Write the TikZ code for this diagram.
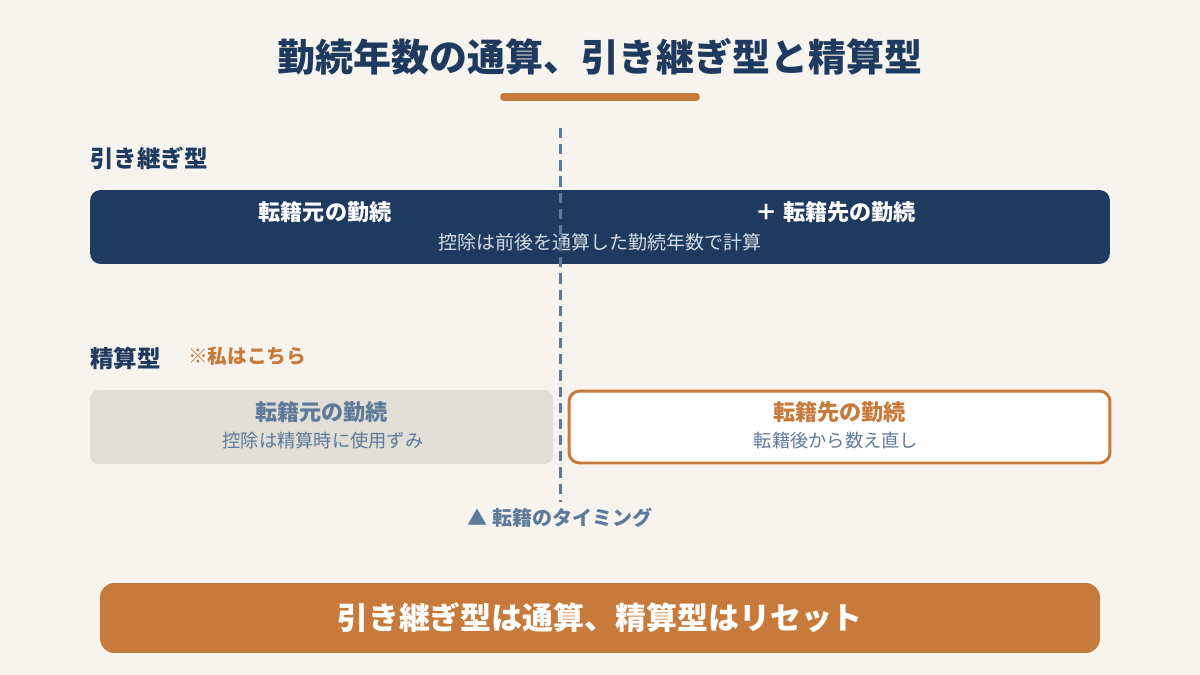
\documentclass[tikz,border=0pt]{standalone}
\usepackage{fontspec}
\setmainfont{Noto Sans CJK JP}
\usetikzlibrary{positioning}

\definecolor{navy}{HTML}{1F3A5F}
\definecolor{rust}{HTML}{C87A3A}
\definecolor{paper}{HTML}{F7F4EF}
\definecolor{stone}{HTML}{E0DED6}
\definecolor{slate}{HTML}{5E7A99}
\definecolor{mist}{HTML}{D3DBE6}

\begin{document}
\begin{tikzpicture}[
  x=0.02cm, y=-0.02cm,
  heading/.style={font=\bfseries\fontsize{21.6pt}{25pt}\selectfont, text=navy},
  kind/.style={font=\bfseries\fontsize{13.4pt}{16pt}\selectfont, text=navy, anchor=west},
  flowbar/.style={fill=navy, rounded corners=6pt, minimum width=20.4cm, minimum height=1.48cm},
  oldbox/.style={fill=stone, rounded corners=5pt, minimum width=9.26cm, minimum height=1.48cm},
  newbox/.style={draw=rust, line width=1.7pt, fill=white, rounded corners=6pt, minimum width=10.82cm, minimum height=1.44cm},
  term/.style={font=\bfseries\fontsize{12.6pt}{15pt}\selectfont},
  note/.style={font=\fontsize{10.4pt}{13pt}\selectfont},
  summary/.style={fill=rust, rounded corners=8pt, minimum width=20cm, minimum height=1.4cm, text=white,
    font=\bfseries\fontsize{17.6pt}{21pt}\selectfont},
  cutline/.style={draw=slate, line width=1.7pt, dash pattern=on 5.8pt off 3.4pt}
]
  \fill[paper] (0,0) rectangle (1200,675);
  \useasboundingbox (0,0) rectangle (1200,675);

  % title
  \node[heading] (title) at (600,57) {勤続年数の通算、引き継ぎ型と精算型};
  \coordinate (rule left) at (503.5,97);
  \coordinate (rule right) at (696.5,97);
  \draw[rust, line width=4pt, line cap=round] (rule left) -- (rule right);

  % 引き継ぎ型
  \node[kind] (keeplabel) at (84,158) {引き継ぎ型};
  \node[flowbar] (keep) at (600,227) {};
  \node[term, text=white] (keepold) at (325,212) {転籍元の勤続};
  \node[term, text=white] (keepnew) at (836,212) {＋ 転籍先の勤続};
  \node[note, text=mist, font=\fontsize{10.8pt}{13pt}\selectfont] (keepnote) at (600,242) {控除は前後を通算した勤続年数で計算};

  % 精算型
  \node[kind] (settlelabel) at (84,358) {精算型};
  \node[font=\bfseries\fontsize{11.2pt}{14pt}\selectfont, text=rust, anchor=west] (mine) at (182,356) {※私はこちら};
  \node[oldbox] (settleold) at (321.5,427) {};
  \node[term, text=slate] (oldtitle) at (321.5,412) {転籍元の勤続};
  \node[note, text=slate] (oldnote) at (323,441) {控除は精算時に使用ずみ};
  \node[newbox] (settlenew) at (839.5,427) {};
  \node[term, text=rust] (newtitle) at (839.5,412) {転籍先の勤続};
  \node[note, text=slate] (newnote) at (836,441) {転籍後から数え直し};

  % transfer timing
  \coordinate (cut top) at (560,128);
  \coordinate (cut bottom) at (560,502);
  \draw[cutline] (cut top) -- (cut bottom);
  \node[font=\bfseries\fontsize{11.4pt}{14pt}\selectfont, text=slate] (timing) at (560,518) {▲ 転籍のタイミング};

  % conclusion
  \node[summary] (result) at (600,618) {引き継ぎ型は通算、精算型はリセット};
\end{tikzpicture}
\end{document}
